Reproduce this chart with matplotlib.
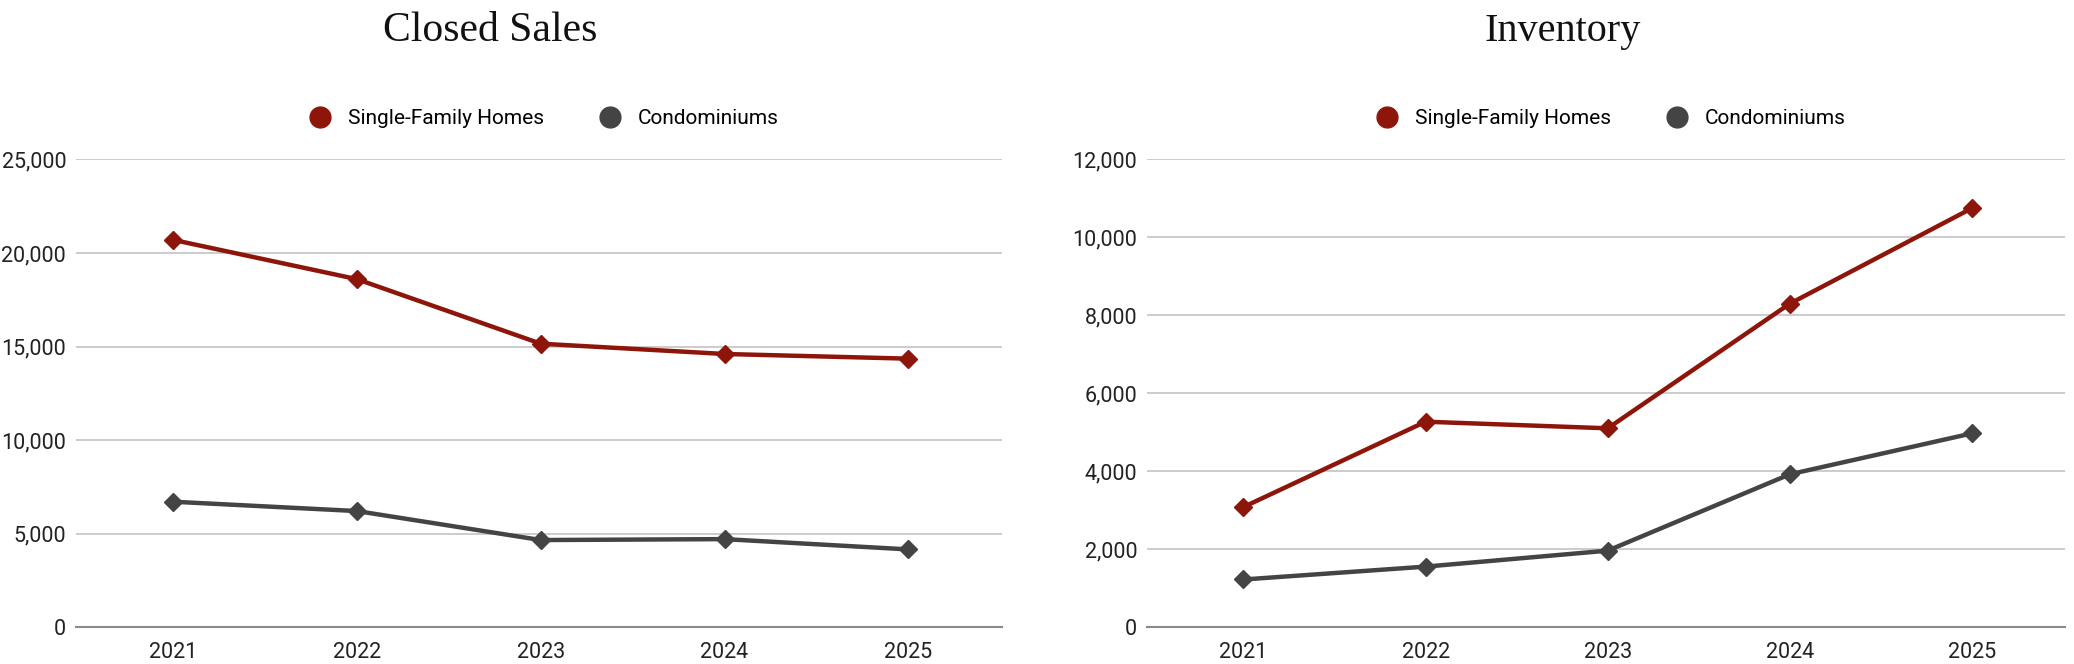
import matplotlib
matplotlib.use("Agg")
import matplotlib.pyplot as plt
from matplotlib.ticker import FuncFormatter, MultipleLocator
from matplotlib.lines import Line2D

years = ["2021", "2022", "2023", "2024", "2025"]

# closed sales
sales_sfh = [20700, 18600, 15150, 14600, 14350]
sales_condo = [6700, 6200, 4650, 4700, 4150]

# inventory
inv_sfh = [3080, 5270, 5100, 8300, 10750]
inv_condo = [1220, 1550, 1960, 3920, 4970]

RED = "#8e1509"
GREY = "#444444"
SANS = ["Liberation Sans Narrow", "Roboto", "DejaVu Sans"]

plt.rcParams["font.family"] = SANS

fig = plt.figure(figsize=(20.74, 6.64), dpi=100)
ax1 = fig.add_axes([0.0366, 0.0557, 0.4465, 0.7041])
ax2 = fig.add_axes([0.5530, 0.0557, 0.4426, 0.7041])


def style(ax, sfh, condo, ymax, step):
    x = range(len(years))
    ax.plot(x, sfh, color=RED, lw=3.2, marker="D", ms=9, zorder=3)
    ax.plot(x, condo, color=GREY, lw=3.2, marker="D", ms=9, zorder=3)
    ax.set_xlim(-0.53, 4.51)
    ax.set_ylim(0, ymax)
    ax.set_xticks(list(x))
    ax.set_xticklabels(years)
    ax.yaxis.set_major_locator(MultipleLocator(step))
    ax.yaxis.set_major_formatter(FuncFormatter(lambda v, p: f"{int(v):,}"))
    ax.grid(axis="y", color="#c8c8c8", lw=1.3)
    ax.set_axisbelow(True)
    for s in ["top", "right", "left"]:
        ax.spines[s].set_visible(False)
    ax.spines["bottom"].set_color("#8a8a8a")
    ax.spines["bottom"].set_linewidth(1.5)
    ax.tick_params(axis="both", length=0, labelsize=15.5, colors="#222222")
    ax.tick_params(axis="y", pad=7)
    ax.tick_params(axis="x", pad=11)
    handles = [
        Line2D([], [], ls="", marker="o", ms=15, color=RED, label="Single-Family Homes"),
        Line2D([], [], ls="", marker="o", ms=15, color=GREY, label="Condominiums"),
    ]
    ax.legend(handles=handles, loc="center", bbox_to_anchor=(0.5, 1.087), ncol=2,
              frameon=False, fontsize=15, handletextpad=0.3, columnspacing=2.2)


style(ax1, sales_sfh, sales_condo, 25000, 5000)
style(ax2, inv_sfh, inv_condo, 12000, 2000)

fig.text(490 / 2074, 1 - 31 / 664, "Closed Sales", ha="center", va="center",
         fontsize=30, family=["Liberation Serif", "DejaVu Serif"], color="#111111")
fig.text(1563 / 2074, 1 - 31 / 664, "Inventory", ha="center", va="center",
         fontsize=29, family=["Liberation Serif", "DejaVu Serif"], color="#111111")

fig.savefig("out.png", dpi=100, facecolor="white")
